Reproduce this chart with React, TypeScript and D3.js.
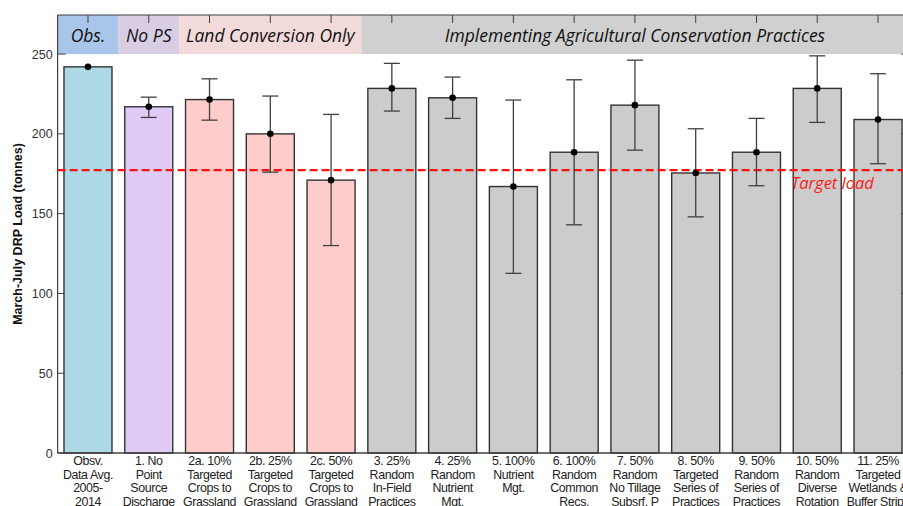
import React from "react";
import * as d3 from "d3";

const categories: string[][] = [
  ["Obsv.", "Data Avg.", "2005-", "2014"],
  ["1. No", "Point", "Source", "Discharge"],
  ["2a. 10%", "Targeted", "Crops to", "Grassland"],
  ["2b. 25%", "Targeted", "Crops to", "Grassland"],
  ["2c. 50%", "Targeted", "Crops to", "Grassland"],
  ["3. 25%", "Random", "In-Field", "Practices"],
  ["4. 25%", "Random", "Nutrient", "Mgt."],
  ["5. 100%", "Nutrient", "Mgt."],
  ["6. 100%", "Random", "Common", "Recs."],
  ["7. 50%", "Random", "No Tillage", "Subsrf. P"],
  ["8. 50%", "Targeted", "Series of", "Practices"],
  ["9. 50%", "Random", "Series of", "Practices"],
  ["10. 50%", "Random", "Diverse", "Rotation"],
  ["11. 25%", "Targeted", "Wetlands &", "Buffer Strips"],
];

const values: number[] = [242, 217, 221.5, 200, 171, 228.5, 222.6, 167, 188.5, 218, 175.5, 188.5, 228.5, 209];
const errLow: (number | null)[] = [null, 210.3, 208.6, 176, 130, 214.3, 209.7, 112.6, 143, 189.8, 148, 167.5, 207.2, 181.3];
const errHigh: (number | null)[] = [null, 223, 234.5, 223.7, 212.2, 244.2, 235.6, 221.2, 233.9, 246.2, 203.2, 209.7, 248.9, 237.7];
const groupOf: string[] = ["obs", "nops", "land", "land", "land", "impl", "impl", "impl", "impl", "impl", "impl", "impl", "impl", "impl"];

const groups = [
  { key: "obs", label: "Obs.", band: "#a9c5e9", bar: "#add8e6" },
  { key: "nops", label: "No PS", band: "#d9cde3", bar: "#e0cbf7" },
  { key: "land", label: "Land Conversion Only", band: "#f3dada", bar: "#ffcccc" },
  { key: "impl", label: "Implementing Agricultural Conservation Practices", band: "#d0d0d0", bar: "#cccccc" },
];

const yTicks = [0, 50, 100, 150, 200, 250];
const targetLoad = 177.3;
const yMax = 274.5;
const headerFrom = 250;

export default function App() {
  const W = 903, H = 506;
  const left = 57.6, right = 908.4, top = 15, bottom = 453;
  const x = d3.scaleBand<number>().domain(d3.range(categories.length)).range([left, right]).paddingInner(0.21).paddingOuter(0.105);
  const xStep = d3.scaleBand<number>().domain(d3.range(categories.length)).range([left, right]);
  const y = d3.scaleLinear().domain([0, yMax]).range([bottom, top]);
  const frame = "#404040";
  const groupColor = (k: string) => groups.find((g) => g.key === k)!;

  const spans = groups.map((g) => {
    const idx = groupOf.map((k, i) => (k === g.key ? i : -1)).filter((i) => i >= 0);
    const x0 = xStep(idx[0])!;
    const x1 = xStep(idx[idx.length - 1])! + xStep.bandwidth();
    return { ...g, x0, x1 };
  });

  const cx = (i: number) => xStep(i)! + xStep.bandwidth() / 2;
  const bw = x.bandwidth();

  return (
    <svg width={W} height={H} style={{ position: "absolute", left: 0, top: 0, background: "#fff" }}>
      {/* header band */}
      {spans.map((s) => (
        <g key={s.key}>
          <rect x={s.x0} y={y(yMax)} width={s.x1 - s.x0} height={y(headerFrom) - y(yMax)} fill={s.band} />
          <text x={(s.x0 + s.x1) / 2} y={y(yMax) + 27} textAnchor="middle" fontFamily="'Open Sans', sans-serif" fontStyle="italic" fontSize={17.5} fill="#111">
            {s.label}
          </text>
        </g>
      ))}
      {/* frame */}
      <line x1={left} x2={right} y1={top} y2={top} stroke={frame} strokeWidth={1.2} />
      <line x1={left} x2={left} y1={top} y2={bottom} stroke={frame} strokeWidth={1.2} />
      <line x1={right} x2={right} y1={top} y2={bottom} stroke={frame} strokeWidth={1.2} />
      {/* top ticks */}
      {categories.map((_, i) => (
        <line key={"tt" + i} x1={cx(i)} x2={cx(i)} y1={top} y2={top + 8} stroke={frame} strokeWidth={1} />
      ))}
      {/* y ticks */}
      {yTicks.map((t) => (
        <g key={"yt" + t}>
          <line x1={left} x2={left + 8} y1={y(t)} y2={y(t)} stroke={frame} strokeWidth={1} />
          <line x1={right - 7} x2={right} y1={y(t)} y2={y(t)} stroke={frame} strokeWidth={1} />
          <text x={left - 5} y={y(t) + 4.5} textAnchor="end" fontFamily="'Liberation Sans', Arial, sans-serif" fontSize={12.5} fill="#333">
            {t}
          </text>
        </g>
      ))}
      {/* bars */}
      {values.map((v, i) => (
        <rect key={"b" + i} x={x(i)} y={y(v)} width={bw} height={y(0) - y(v)} fill={groupColor(groupOf[i]).bar} stroke="#333" strokeWidth={1.4} />
      ))}
      {/* baseline */}
      <line x1={left} x2={right} y1={bottom} y2={bottom} stroke={frame} strokeWidth={1.4} />
      {/* target line */}
      <line x1={left} x2={right} y1={y(targetLoad)} y2={y(targetLoad)} stroke="#ff1010" strokeWidth={2.4} strokeDasharray="8,4" />
      <text x={791} y={y(targetLoad) + 19} fontFamily="'Open Sans', sans-serif" fontStyle="italic" fontSize={16.5} fill="#ff1a1a">
        Target load
      </text>
      {/* error bars */}
      {values.map((v, i) => {
        const lo = errLow[i], hi = errHigh[i];
        return (
          <g key={"e" + i}>
            {lo !== null && hi !== null && (
              <g stroke="#404040" strokeWidth={1.3}>
                <line x1={cx(i)} x2={cx(i)} y1={y(lo)} y2={y(hi)} />
                <line x1={cx(i) - 8} x2={cx(i) + 8} y1={y(lo)} y2={y(lo)} />
                <line x1={cx(i) - 8} x2={cx(i) + 8} y1={y(hi)} y2={y(hi)} />
              </g>
            )}
            <circle cx={cx(i)} cy={y(v)} r={3.3} fill="#000" />
          </g>
        );
      })}
      {/* x labels */}
      {categories.map((lines, i) => (
        <text key={"xl" + i} textAnchor="middle" fontFamily="'Liberation Sans', Arial, sans-serif" fontSize={12.4} fill="#222" letterSpacing={-0.4}>
          {lines.map((l, j) => (
            <tspan key={j} x={cx(i)} y={bottom + 12 + j * 13.7}>
              {l}
            </tspan>
          ))}
        </text>
      ))}
      {/* y label */}
      <text transform={`translate(22, ${(top + bottom) / 2}) rotate(-90)`} textAnchor="middle" fontFamily="'Liberation Sans', Arial, sans-serif" fontWeight="bold" fontSize={12.5} fill="#111">
        March-July DRP Load (tonnes)
      </text>
    </svg>
  );
}
